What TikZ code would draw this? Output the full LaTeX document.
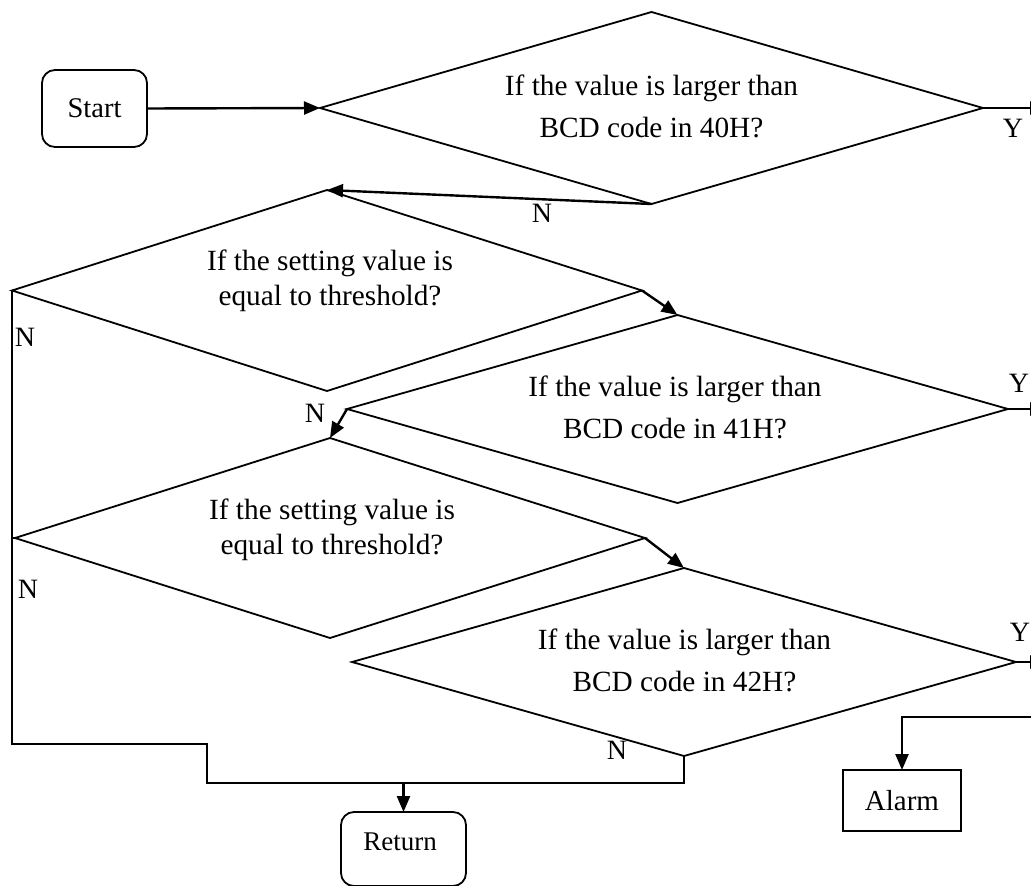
\documentclass[tikz,border=0pt]{standalone}
\usepackage{fontspec}
\setmainfont{Liberation Serif}
\usetikzlibrary{shapes.geometric,arrows.meta}
\begin{document}
\begin{tikzpicture}[x=1pt,y=-1pt,
  dia/.style={draw, shape=diamond, line width=1.8pt, inner sep=0pt, outer sep=0pt, line join=miter},
  txt/.style={font=\fontsize{29.3}{42}\selectfont, align=center, inner sep=0pt},
  txts/.style={font=\fontsize{29.3}{35}\selectfont, align=center, inner sep=0pt},
  lbl/.style={font=\fontsize{28}{30}\selectfont, inner sep=0pt},
  term/.style={draw, rounded corners=13pt, line width=1.8pt, inner sep=0pt, outer sep=0pt},
  proc/.style={draw, line width=1.8pt, inner sep=0pt, outer sep=0pt},
  conn/.style={line width=2.4pt, -{Triangle[length=16pt,width=13pt]}},
  wire/.style={line width=2.2pt}]
\useasboundingbox (0,0) rectangle (1031,886);
% terminals
\node[term, minimum width=105pt, minimum height=77pt, font=\fontsize{28.5}{30}\selectfont] (start) at (94.5,108.5) {Start};
\node[term, minimum width=125pt, minimum height=74pt] (ret) at (403.5,849) {};
\node[lbl, font=\fontsize{27}{30}\selectfont] (rettxt) at (400,842) {Return};
\node[proc, minimum width=118pt, minimum height=61pt, font=\fontsize{29}{30}\selectfont] (alarm) at (902,800.5) {Alarm};
% decisions
\node[dia, minimum width=663pt, minimum height=192pt] (d1) at (651.5,108) {};
\node[txt] (t1) at (651.5,106.5) {If the value is larger than\\BCD code in 40H?};
\node[dia, minimum width=630pt, minimum height=201pt] (d2) at (327,290.5) {};
\node[txts] (t2) at (330,280.5) {If the setting value is\\equal to threshold?};
\node[dia, minimum width=661pt, minimum height=188pt] (d3) at (677.5,409) {};
\node[txt] (t3) at (675,407.5) {If the value is larger than\\BCD code in 41H?};
\node[dia, minimum width=630pt, minimum height=200pt] (d4) at (330,538) {};
\node[txts] (t4) at (332,529.5) {If the setting value is\\equal to threshold?};
\node[dia, minimum width=664pt, minimum height=188pt] (d5) at (684,662) {};
\node[txt] (t5) at (684.5,660.5) {If the value is larger than\\BCD code in 42H?};
% free ends and junctions
\coordinate (y1end) at (1046,108);
\coordinate (y2end) at (1046,409);
\coordinate (y3end) at (1046,662);
\coordinate (ain) at (1036,717);
\coordinate (j1) at (12,744);
\coordinate (j2) at (207,744);
\coordinate (j3) at (207,783);
\coordinate (j4) at (403.5,783);
% connectors
\draw[conn] (start.east) -- (d1.west);
\draw[conn] (d1.south) -- (d2.north);
\draw[conn] (d1.east) -- (y1end);
\draw[conn] (d2.east) -- (d3.north);
\draw[conn] (d3.east) -- (y2end);
\draw[conn] (d3.west) -- (d4.north);
\draw[conn] (d4.east) -- (d5.north);
\draw[conn] (d5.east) -- (y3end);
\draw[wire] (d2.west) -- (j1) -- (j2) -- (j3) -- (j4);
\draw[wire] (d4.west) -- (d4.west -| j1);
\draw[conn] (d5.south) |- (j4) -- (ret.north);
\draw[conn] (ain) -| (alarm.north);
% labels
\node[lbl] (n1) at (542,213) {N};
\node[lbl] (y1) at (1013,128) {Y};
\node[lbl] (n2) at (25,337) {N};
\node[lbl] (y2) at (1019,383) {Y};
\node[lbl] (n3) at (315,413) {N};
\node[lbl] (n4) at (28,589) {N};
\node[lbl] (y3) at (1020,632) {Y};
\node[lbl] (n5) at (617,750) {N};
\end{tikzpicture}
\end{document}
